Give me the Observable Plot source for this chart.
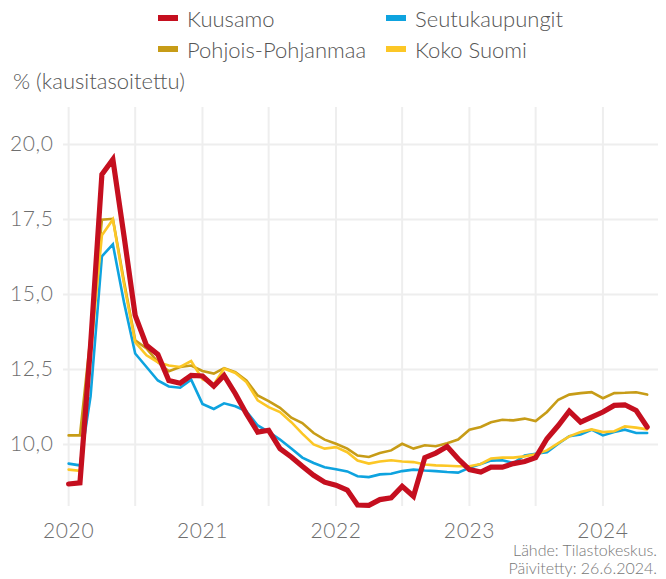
<!DOCTYPE html>
<html><head><meta charset="utf-8">
<script src="https://cdn.jsdelivr.net/npm/d3@7"></script>
<script src="https://cdn.jsdelivr.net/npm/@observablehq/plot@0.6"></script>
<style>
body{margin:0;background:#fff;font-family:Lato, sans-serif;font-weight:300;}
#wrap{position:relative;width:666px;height:579px;overflow:hidden;background:#fff;}
.leg{position:absolute;font-size:22px;color:#555;display:flex;align-items:center;white-space:nowrap;height:24px;}
.sw{width:20px;height:6px;margin-right:9px;display:inline-block;}
#ytitle{position:absolute;left:13px;top:67px;font-size:22px;color:#555;white-space:nowrap;}
#chart{position:absolute;left:0;top:100px;}
#cap{position:absolute;right:9px;top:541px;font-size:16px;color:#777;text-align:right;line-height:18px;}
</style></head>
<body>
<div id="wrap">
  <div id="legend"></div>
  <div id="ytitle">% (kausitasoitettu)</div>
  <div id="chart"></div>
  <div id="cap">Lähde: Tilastokeskus.<br>Päivitetty: 26.6.2024.</div>
</div>
<script>
// Monthly data, January 2020 – May 2024
const startMonth = "2020-01-01";
const seriesNames = ["Kuusamo", "Seutukaupungit", "Pohjois-Pohjanmaa", "Koko Suomi"];
const seriesColors = ["#c50f1f", "#0ea3df", "#c79c17", "#fcc726"];

const kuusamo = [8.68, 8.72, 13.3, 19.0, 19.5, 16.9, 14.3, 13.3, 13.0, 12.13, 12.04, 12.3,
  12.28, 11.94, 12.3, 11.69, 11.02, 10.41, 10.47, 9.86, 9.58, 9.27, 8.97, 8.74,
  8.64, 8.48, 7.98, 7.97, 8.16, 8.22, 8.6, 8.27, 9.56, 9.71, 9.93, 9.52,
  9.16, 9.08, 9.24, 9.24, 9.36, 9.43, 9.56, 10.19, 10.63, 11.11, 10.74, 10.91,
  11.08, 11.3, 11.32, 11.13, 10.58];
const seutukaupungit = [9.36, 9.3, 11.6, 16.27, 16.67, 14.7, 13.03, 12.58, 12.13, 11.93, 11.89, 12.16,
  11.35, 11.18, 11.37, 11.27, 11.1, 10.63, 10.42, 10.16, 9.86, 9.56, 9.38, 9.24,
  9.17, 9.1, 8.94, 8.91, 9.0, 9.02, 9.11, 9.16, 9.13, 9.11, 9.08, 9.06,
  9.22, 9.35, 9.46, 9.47, 9.38, 9.63, 9.69, 9.74, 10.02, 10.27, 10.33, 10.49,
  10.3, 10.41, 10.49, 10.38, 10.38];
const pohjoisPohjanmaa = [10.3, 10.3, 13.6, 17.49, 17.52, 15.4, 13.47, 13.2, 12.74, 12.44, 12.58, 12.63,
  12.45, 12.36, 12.54, 12.41, 12.13, 11.63, 11.44, 11.22, 10.89, 10.71, 10.38, 10.16,
  10.02, 9.86, 9.63, 9.58, 9.71, 9.8, 10.02, 9.86, 9.97, 9.94, 10.04, 10.16,
  10.49, 10.58, 10.74, 10.82, 10.8, 10.86, 10.78, 11.08, 11.49, 11.66, 11.71, 11.74,
  11.54, 11.71, 11.72, 11.74, 11.66];
const kokoSuomi = [9.16, 9.12, 13.0, 16.97, 17.5, 15.3, 13.41, 12.97, 12.74, 12.63, 12.58, 12.78,
  12.17, 12.0, 12.53, 12.38, 12.08, 11.47, 11.24, 11.08, 10.74, 10.36, 10.0, 9.86,
  9.91, 9.74, 9.46, 9.36, 9.43, 9.47, 9.43, 9.41, 9.33, 9.3, 9.29, 9.27,
  9.27, 9.35, 9.53, 9.56, 9.56, 9.6, 9.67, 9.8, 10.04, 10.27, 10.41, 10.5,
  10.41, 10.44, 10.6, 10.56, 10.5];

const yTicks = [10, 12.5, 15, 17.5, 20];
const xTickYears = ["2020", "2021", "2022", "2023", "2024"];

const values = [kuusamo, seutukaupungit, pohjoisPohjanmaa, kokoSuomi];
const start = new Date(startMonth + "T00:00:00Z");
const months = d3.utcMonth.range(start, d3.utcMonth.offset(start, kuusamo.length));
const table = values.map((arr, s) => arr.map((v, i) => ({series: seriesNames[s], date: months[i], value: v})));

const xTicks = xTickYears.map(y => new Date(y + "-01-01T00:00:00Z"));
const xGrid = d3.utcMonth.every(6).range(new Date("2020-01-01T00:00:00Z"), new Date("2024-06-01T00:00:00Z"));

// legend
const legendPos = [[158, 6], [386, 6], [158, 37], [386, 37]];
const leg = document.getElementById("legend");
seriesNames.forEach((n, i) => {
  const d = document.createElement("div");
  d.className = "leg";
  d.style.left = legendPos[i][0] + "px";
  d.style.top = legendPos[i][1] + "px";
  d.innerHTML = `<span class="sw" style="background:${seriesColors[i]}"></span><span>${n}</span>`;
  leg.appendChild(d);
});

const drawOrder = [2, 1, 3, 0];
const chart = Plot.plot({
  width: 666, height: 479,
  marginTop: 7, marginBottom: 73, marginLeft: 63, marginRight: 8,
  x: {type: "utc", domain: [new Date("2019-12-18T00:00:00Z"), new Date("2024-06-01T00:00:00Z")]},
  y: {domain: [7.93, 21.23]},
  style: {fontFamily: "Lato, sans-serif", fontWeight: 300, fontSize: "21px", color: "#6f6f6f", background: "transparent", overflow: "visible", letterSpacing: "0.6px"},
  marks: [
    Plot.gridY(yTicks, {stroke: "#eeeeee", strokeOpacity: 1, strokeWidth: 2}),
    Plot.gridX(xGrid, {stroke: "#eeeeee", strokeOpacity: 1, strokeWidth: 2}),
    Plot.axisY(yTicks, {tickSize: 0, tickPadding: 10, label: null,
      tickFormat: d => d3.format(".1f")(d).replace(".", ",")}),
    Plot.axisX(xTicks, {tickSize: 0, tickPadding: 17, label: null, tickFormat: d3.utcFormat("%Y")}),
    ...drawOrder.map(s => Plot.line(table[s], {x: "date", y: "value", stroke: seriesColors[s],
      strokeWidth: s === 0 ? 5.2 : 2.6, strokeLinejoin: "miter", strokeMiterlimit: 4}))
  ]
});
document.getElementById("chart").appendChild(chart);
</script>
</body></html>
